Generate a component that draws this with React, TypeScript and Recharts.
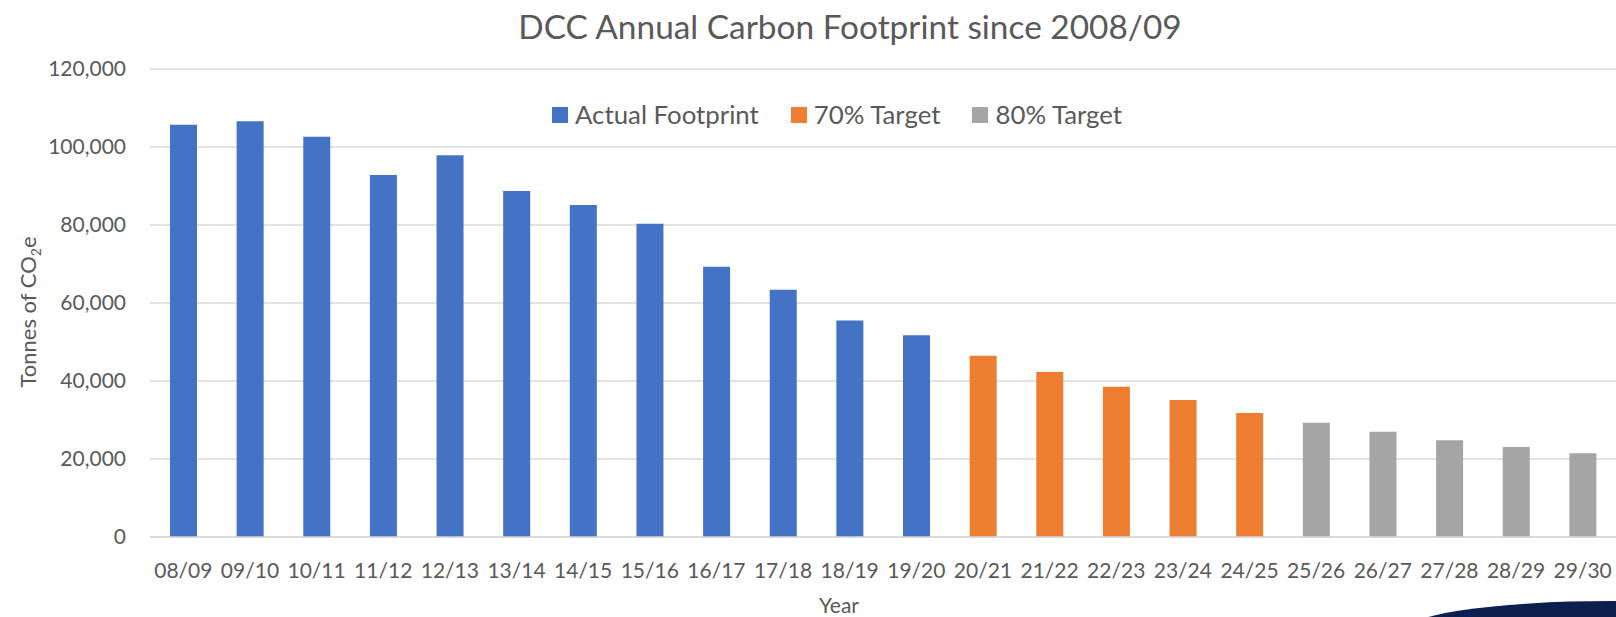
import React from "react";
import { BarChart, Bar, XAxis, YAxis, CartesianGrid, Label } from "recharts";

const years = [
  "08/09", "09/10", "10/11", "11/12", "12/13", "13/14", "14/15", "15/16",
  "16/17", "17/18", "18/19", "19/20", "20/21", "21/22", "22/23", "23/24",
  "24/25", "25/26", "26/27", "27/28", "28/29", "29/30",
];

const actualFootprint = [
  105700, 106600, 102600, 92800, 97900, 88700, 85100, 80300, 69300, 63400,
  55500, 51700, null, null, null, null, null, null, null, null, null, null,
];

const target70 = [
  null, null, null, null, null, null, null, null, null, null, null, null,
  46500, 42300, 38500, 35100, 31800, null, null, null, null, null,
];

const target80 = [
  null, null, null, null, null, null, null, null, null, null, null, null,
  null, null, null, null, null, 29300, 27000, 24800, 23100, 21500,
];

const yTicks = [0, 20000, 40000, 60000, 80000, 100000, 120000];

const series = [
  { key: "actual", name: "Actual Footprint", color: "#4472C4" },
  { key: "t70", name: "70% Target", color: "#ED7D31" },
  { key: "t80", name: "80% Target", color: "#A5A5A5" },
];

const data = years.map((year, i) => ({
  year,
  actual: actualFootprint[i],
  t70: target70[i],
  t80: target80[i],
}));

const FONT = "Lato, 'Open Sans', sans-serif";
const TEXT = "#595959";
const GRID = "#d9d9d9";

const fmt = (v: number) => v.toLocaleString("en-US");

export default function App() {
  return (
    <div
      style={{
        position: "fixed",
        left: 0,
        top: 0,
        width: 1616,
        height: 617,
        overflow: "hidden",
        background: "#fff",
        fontFamily: FONT,
      }}
    >
      <div
        style={{
          position: "absolute",
          left: 850,
          top: 10,
          transform: "translateX(-50%)",
          whiteSpace: "nowrap",
          fontSize: 33.4,
          lineHeight: 1,
          color: TEXT,
        }}
      >
        DCC Annual Carbon Footprint since 2008/09
      </div>

      <BarChart
        width={1616}
        height={617}
        data={data}
        margin={{ top: 69, right: 0, bottom: 0, left: 0 }}
        barSize={27}
      >
        <CartesianGrid vertical={false} stroke={GRID} strokeWidth={1.5} />
        <XAxis
          dataKey="year"
          height={80}
          tickSize={0}
          tickMargin={26}
          tickLine={false}
          interval={0}
          axisLine={{ stroke: GRID, strokeWidth: 1.5 }}
          tick={{ fontSize: 21, fill: TEXT, fontFamily: FONT }}
        >
          <Label
            content={({ viewBox }: any) => (
              <text
                x={viewBox.x + viewBox.width / 2 - 44}
                y={viewBox.y + 76}
                textAnchor="middle"
                fontSize={21}
                fill={TEXT}
                fontFamily={FONT}
              >
                Year
              </text>
            )}
          />
        </XAxis>
        <YAxis
          width={150}
          domain={[0, 120000]}
          ticks={yTicks}
          tickFormatter={fmt}
          tickSize={0}
          tickMargin={24}
          tickLine={false}
          axisLine={false}
          tick={{ fontSize: 21, fill: TEXT, fontFamily: FONT }}
        >
          <Label
            content={({ viewBox }: any) => {
              const cx = 36;
              const cy = viewBox.y + viewBox.height / 2 + 9;
              return (
                <text
                  transform={`translate(${cx},${cy}) rotate(-90)`}
                  textAnchor="middle"
                  fontSize={22}
                  fill={TEXT}
                  fontFamily={FONT}
                >
                  <tspan>Tonnes of CO</tspan>
                  <tspan fontSize={14} dy={5}>2</tspan>
                  <tspan dy={-5}>e</tspan>
                </text>
              );
            }}
          />
        </YAxis>
        {series.map((s) => (
          <Bar
            key={s.key}
            dataKey={s.key}
            name={s.name}
            stackId="a"
            fill={s.color}
            isAnimationActive={false}
          />
        ))}
      </BarChart>

      <div
        style={{
          position: "absolute",
          left: 552,
          top: 102,
          height: 25,
          display: "flex",
          alignItems: "center",
          fontSize: 25.8,
          lineHeight: 1,
          color: TEXT,
          whiteSpace: "nowrap",
        }}
      >
        {series.map((s) => (
          <div key={s.key} style={{ display: "flex", alignItems: "center", marginRight: 32 }}>
            <div style={{ width: 16, height: 16, background: s.color, marginRight: 7 }} />
            <span>{s.name}</span>
          </div>
        ))}
      </div>

      <div
        style={{
          position: "absolute",
          left: 1400,
          top: 601,
          width: 420,
          height: 64,
          borderRadius: "50%",
          background: "#0b1f4e",
        }}
      />
    </div>
  );
}
